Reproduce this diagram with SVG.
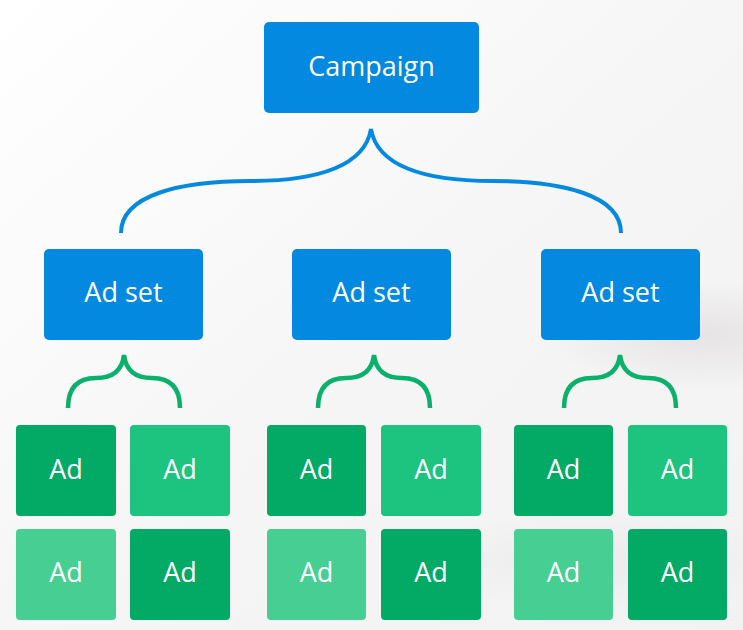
<svg xmlns="http://www.w3.org/2000/svg" width="743" height="630" viewBox="0 0 743 630">
<defs>
<linearGradient id="bg" x1="0" y1="0" x2="1" y2="1">
<stop offset="0" stop-color="#ffffff"/>
<stop offset="0.5" stop-color="#f6f6f6"/>
<stop offset="1" stop-color="#f3f2f2"/>
</linearGradient>
<radialGradient id="shade" cx="0.5" cy="0.5" r="0.5">
<stop offset="0" stop-color="#e2dfdf" stop-opacity="0.8"/>
<stop offset="1" stop-color="#e2dfdf" stop-opacity="0"/>
</radialGradient>
<style>
.blue{fill:#0389e0}
.d{fill:#02aa66}
.m{fill:#1cc47f}
.l{fill:#47cf93}
text{font-family:"Open Sans","Noto Sans","Liberation Sans",sans-serif;font-size:27px;fill:#ffffff;text-anchor:middle}
.bb{fill:none;stroke:#0389e0;stroke-width:4;stroke-linecap:butt}
.gb{fill:none;stroke:#0bb06c;stroke-width:4.5;stroke-linecap:butt}
</style>
</defs>
<rect width="743" height="630" fill="url(#bg)"/>
<ellipse cx="700" cy="335" rx="160" ry="55" fill="url(#shade)"/>
<ellipse cx="600" cy="560" rx="200" ry="50" fill="url(#shade)" opacity="0.5"/>

<g id="connectors">
<path class="bb" d="M121,233 C121,195 180,181 250,181 C320,181 365,165 371,129 C377,165 422,181 492,181 C562,181 621,195 621,233"/>
<path class="gb" d="M68,408 C68,385 80,378 96,378 C111,378 122,372 124,355 C126,372 137,378 152,378 C168,378 180,385 180,408"/>
<path class="gb" d="M318,408 C318,385 330,378 346,378 C361,378 372,372 374,355 C376,372 387,378 402,378 C418,378 430,385 430,408"/>
<path class="gb" d="M564,408 C564,385 576,378 592,378 C607,378 618,372 620,355 C622,372 633,378 648,378 C664,378 676,385 676,408"/>
</g>

<g id="campaign"><rect class="blue" x="264" y="22" width="215" height="91" rx="5"/><text x="371.5" y="76">Campaign</text></g>

<g id="adset1"><rect class="blue" x="44" y="249" width="159" height="91" rx="5"/><text x="123.5" y="302">Ad set</text></g>
<g id="adset2"><rect class="blue" x="292" y="249" width="159" height="91" rx="5"/><text x="371.5" y="302">Ad set</text></g>
<g id="adset3"><rect class="blue" x="541" y="249" width="159" height="91" rx="5"/><text x="620.5" y="302">Ad set</text></g>

<g id="ad1a"><rect class="d" x="16" y="425" width="100" height="91" rx="4"/><text x="66" y="479">Ad</text></g>
<g id="ad1b"><rect class="m" x="130" y="425" width="100" height="91" rx="4"/><text x="180" y="479">Ad</text></g>
<g id="ad1c"><rect class="l" x="16" y="529" width="100" height="91" rx="4"/><text x="66" y="582">Ad</text></g>
<g id="ad1d"><rect class="d" x="130" y="529" width="100" height="91" rx="4"/><text x="180" y="582">Ad</text></g>

<g id="ad2a"><rect class="d" x="267" y="425" width="99" height="91" rx="4"/><text x="316.5" y="479">Ad</text></g>
<g id="ad2b"><rect class="m" x="381" y="425" width="100" height="91" rx="4"/><text x="431" y="479">Ad</text></g>
<g id="ad2c"><rect class="l" x="267" y="529" width="99" height="91" rx="4"/><text x="316.5" y="582">Ad</text></g>
<g id="ad2d"><rect class="d" x="381" y="529" width="100" height="91" rx="4"/><text x="431" y="582">Ad</text></g>

<g id="ad3a"><rect class="d" x="514" y="425" width="99" height="91" rx="4"/><text x="563.5" y="479">Ad</text></g>
<g id="ad3b"><rect class="m" x="628" y="425" width="99" height="91" rx="4"/><text x="677.5" y="479">Ad</text></g>
<g id="ad3c"><rect class="l" x="514" y="529" width="99" height="91" rx="4"/><text x="563.5" y="582">Ad</text></g>
<g id="ad3d"><rect class="d" x="628" y="529" width="99" height="91" rx="4"/><text x="677.5" y="582">Ad</text></g>
</svg>
